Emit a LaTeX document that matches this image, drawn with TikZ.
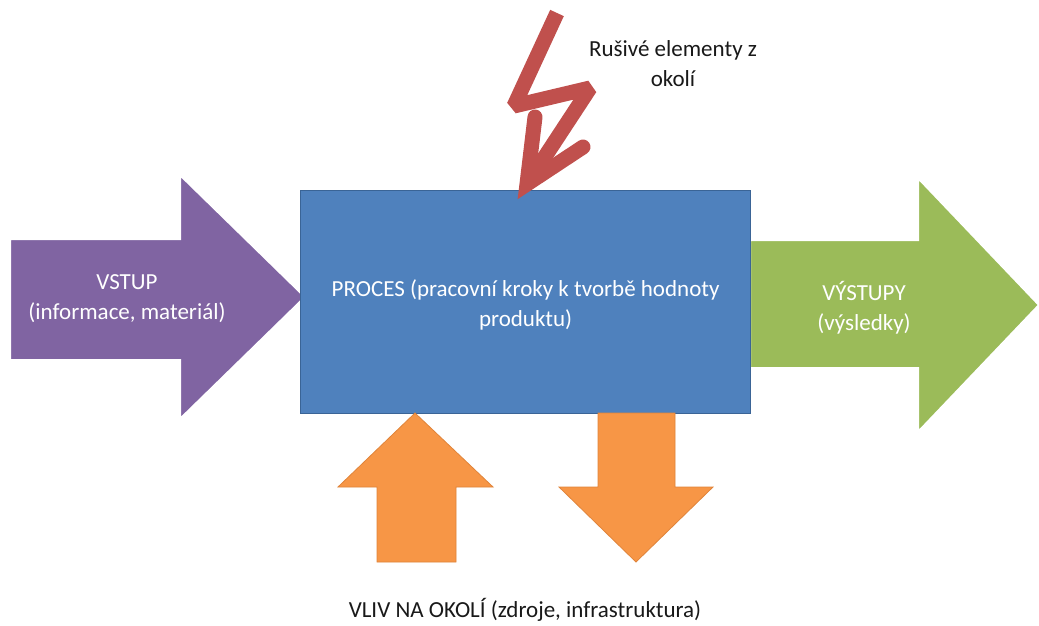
\documentclass[tikz,border=0pt]{standalone}
\usepackage{fontspec}
\setmainfont{Carlito}
\definecolor{procblue}{HTML}{4F81BD}
\definecolor{procedge}{HTML}{3A6496}
\definecolor{inpurple}{HTML}{8064A2}
\definecolor{outgreen}{HTML}{9BBB59}
\definecolor{envorange}{HTML}{F79646}
\definecolor{envedge}{HTML}{E0843A}
\definecolor{boltred}{HTML}{C0504D}
\begin{document}
\begin{tikzpicture}[x=1pt,y=-1pt,
  label/.style={font=\fontsize{23}{30}\selectfont, align=center, inner sep=0pt},
  inlabel/.style={label, text=white},
  outlabel/.style={label, text=black!90},
  bigarrow/.style={draw=white, line width=2pt, line join=miter},
  smallarrow/.style={fill=envorange, draw=envedge, line width=0.8pt, line join=miter},
  bolt/.style={draw=boltred, line width=15pt}]
\useasboundingbox (0,0) rectangle (1039,626);
\fill[white] (0,0) rectangle (1039,626);

% input arrow (left)
\filldraw[bigarrow, fill=inpurple]
  (10,239) -- (180,239) -- (180,175) -- (305,297) -- (180,419) -- (180,360) -- (10,360) -- cycle;

% output arrow (right)
\filldraw[bigarrow, fill=outgreen]
  (750,240) -- (918,240) -- (918,178) -- (1039,305) -- (918,432) -- (918,368) -- (750,368) -- cycle;

% process block
\node[draw=procedge, fill=procblue, line width=1.2pt, minimum width=450pt, minimum height=223pt,
      anchor=north west, inner sep=0pt] (proc) at (300,190) {};

% resources taken from the surroundings (up) and impact on them (down)
\filldraw[smallarrow]
  (415,413) -- (493,487) -- (456,487) -- (456,562) -- (377,562) -- (377,487) -- (338,487) -- cycle;
\filldraw[smallarrow]
  (598,413) -- (675,413) -- (675,487) -- (713,487) -- (636,562) -- (559,487) -- (598,487) -- cycle;

% disturbances: lightning bolt
\draw[bolt, line cap=butt, line join=miter, miter limit=1.6]
  (557,13) -- (514,106) -- (590,88) -- (527,184);
\draw[bolt, line cap=round, line join=miter, miter limit=10]
  (535,117) -- (527,184) -- (583,147);

% labels
\node[inlabel] (vstup) at (127,299) {VSTUP\\(informace, materiál)};
\node[inlabel] (proctext) at (proc.center) [yshift=-3pt] {PROCES (pracovní kroky k tvorbě hodnoty\\produktu)};
\node[inlabel] (vystup) at (864,308) {VÝSTUPY\\(výsledky)};
\node[outlabel] (rusive) at (673,64) {Rušivé elementy z\\okolí};
\node[outlabel] (vliv) at (525,610) {VLIV NA OKOLÍ (zdroje, infrastruktura)};
\end{tikzpicture}
\end{document}
